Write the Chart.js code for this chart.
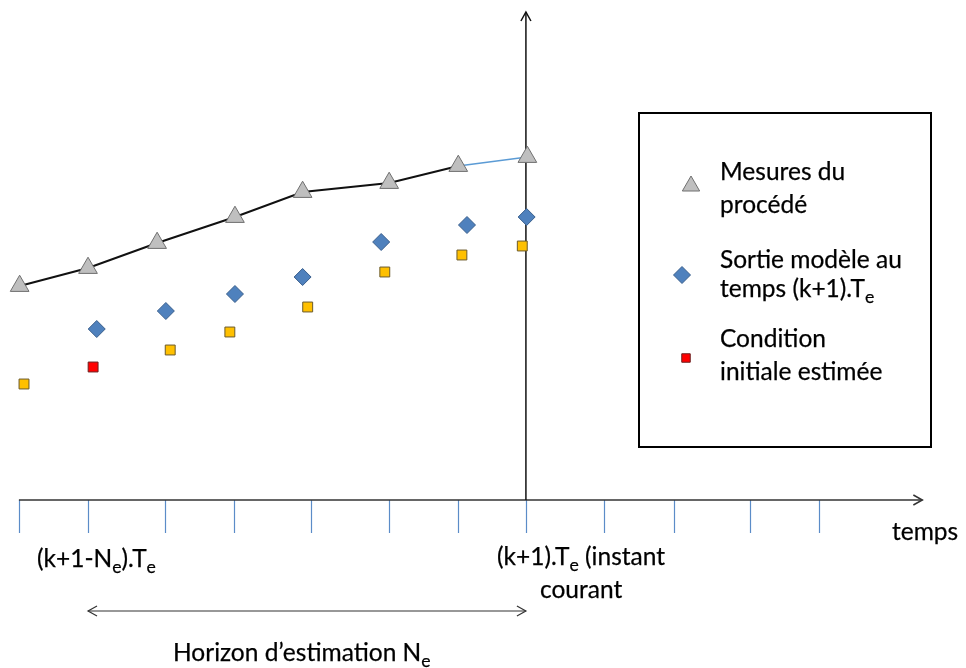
<!DOCTYPE html>
<html>
<head>
<meta charset="utf-8">
<script src="https://cdn.jsdelivr.net/npm/chart.js@4/dist/chart.umd.min.js"></script>
<style>
  html,body{margin:0;padding:0;background:#fff;}
  #wrap{position:relative;width:966px;height:668px;overflow:hidden;font-family:Lato,"Open Sans",sans-serif;color:#000;}
  canvas{position:absolute;left:0;top:0;}
  .t{position:absolute;white-space:nowrap;font-size:24.5px;line-height:24.5px;-webkit-text-stroke:0.25px #000;}
  .t sub{font-size:0.72em;vertical-align:-0.35em;line-height:0;}
  #legendBox{position:absolute;left:638px;top:112px;width:290px;height:332px;border:2px solid #000;}
</style>
</head>
<body>
<div id="wrap">
  <canvas id="c" width="966" height="668"></canvas>
  <div id="legendBox"></div>
  <div class="t" data-b="567" style="left:37px">(k+1-N<sub>e</sub>).T<sub>e</sub></div>
  <div class="t" data-b="565" style="left:497px">(k+1).T<sub>e</sub> (instant</div>
  <div class="t" data-b="598" style="left:540px">courant</div>
  <div class="t" data-b="540" style="left:892px">temps</div>
  <div class="t" data-b="661" style="left:173px">Horizon d’estimation N<sub>e</sub></div>
  <div class="t" data-b="180" style="left:720px">Mesures du</div>
  <div class="t" data-b="213" style="left:720px">procédé</div>
  <div class="t" data-b="268" style="left:720px">Sortie modèle au</div>
  <div class="t" data-b="297" style="left:720px">temps (k+1).T<sub>e</sub></div>
  <div class="t" data-b="347" style="left:720px">Condition</div>
  <div class="t" data-b="380" style="left:720px">initiale estimée</div>
</div>
<script>
// ---- data (time in sampling periods, output in arbitrary units) ----
const tickTimes = [0, 0.95, 2.01, 2.96, 4.02, 5.09, 6.04, 6.97, 8.05, 9.0, 10.05, 11.0];
const mesuresT = [0.01, 0.95, 1.90, 2.97, 3.90, 5.09, 6.04, 6.99];
const mesuresY = [21.4, 23.2, 25.7, 28.3, 30.8, 31.7, 33.4, 34.3];
const modeleT  = [1.07, 2.02, 2.97, 3.90, 4.98, 6.16, 6.98];
const modeleY  = [17.1, 18.9, 20.6, 22.3, 25.8, 27.5, 28.3];
const ancienT  = [0.07, 2.08, 2.90, 3.97, 5.03, 6.09, 6.92];
const ancienY  = [11.6, 15.0, 16.8, 19.3, 22.8, 24.5, 25.4];
const condInitT = [1.02];
const condInitY = [13.3];
const horizonStartTick = 1, currentTick = 7;

// ---- axis extents (diagram) ----
const X_MIN = -0.26, X_MAX = 13.02, Y_MIN = -16.8, Y_MAX = 50.0;
const X_ARROW_END = 12.42, Y_ARROW_END = 48.8, HORIZON_Y = -11.1;

const toPts = (xs, ys) => xs.map((x, i) => ({x: x, y: ys[i]}));
const lastSeg = mesuresT.length - 1;

const styles = {
  tri: {pointStyle:'triangle', radius:10.8, backgroundColor:'#bfbfbf', borderColor:'#6f6f6f', borderWidth:1},
  dia: {pointStyle:'rectRot', radius:8.5, backgroundColor:'#4f81bd', borderColor:'#3a5f8c', borderWidth:1},
  sq:  {pointStyle:'rect', radius:7, backgroundColor:'#ffc000', borderColor:'#6b5a2a', borderWidth:1},
  red: {pointStyle:'rect', radius:7, backgroundColor:'#ff0000', borderColor:'#6b2020', borderWidth:1}
};

function arrowHead(ctx, x, y, dx, dy, len, half){
  const px = -dy, py = dx;
  ctx.beginPath();
  ctx.moveTo(x - dx*len + px*half, y - dy*len + py*half);
  ctx.lineTo(x, y);
  ctx.lineTo(x - dx*len - px*half, y - dy*len - py*half);
  ctx.stroke();
}

const diagramAxes = {
  id:'diagramAxes',
  beforeDatasetsDraw(chart){
    const ctx = chart.ctx, xs = chart.scales.x, ys = chart.scales.y;
    const y0 = ys.getPixelForValue(0);
    const x0 = xs.getPixelForValue(tickTimes[0]);
    const xEnd = xs.getPixelForValue(X_ARROW_END);
    const xCur = xs.getPixelForValue(tickTimes[currentTick]);
    ctx.save();
    ctx.strokeStyle = '#5b8cc8'; ctx.lineWidth = 1.2;
    tickTimes.forEach(t => {
      const px = Math.round(xs.getPixelForValue(t)) + 0.5;
      ctx.beginPath(); ctx.moveTo(px, y0); ctx.lineTo(px, y0 + 33); ctx.stroke();
    });
    ctx.strokeStyle = '#333'; ctx.lineWidth = 1.5;
    ctx.beginPath(); ctx.moveTo(x0, y0); ctx.lineTo(xEnd, y0); ctx.stroke();
    arrowHead(ctx, xEnd, y0, 1, 0, 9, 5);
    const yTop = ys.getPixelForValue(Y_ARROW_END);
    ctx.strokeStyle = '#111'; ctx.lineWidth = 1.5;
    ctx.beginPath(); ctx.moveTo(xCur, y0); ctx.lineTo(xCur, yTop); ctx.stroke();
    arrowHead(ctx, xCur, yTop, 0, -1, 9, 5);
    const yh = ys.getPixelForValue(HORIZON_Y);
    const xa = xs.getPixelForValue(tickTimes[horizonStartTick]);
    ctx.strokeStyle = '#333'; ctx.lineWidth = 1.2;
    ctx.beginPath(); ctx.moveTo(xa, yh); ctx.lineTo(xCur, yh); ctx.stroke();
    arrowHead(ctx, xa, yh, -1, 0, 9, 5);
    arrowHead(ctx, xCur, yh, 1, 0, 9, 5);
    ctx.restore();
  },
  afterDraw(chart){
    const ctx = chart.ctx;
    const items = [[styles.tri, 691, 186, 10], [styles.dia, 682, 275, 8.5], [styles.red, 686, 358, 6]];
    items.forEach(([s, x, y, r]) => {
      ctx.save();
      ctx.fillStyle = s.backgroundColor; ctx.strokeStyle = s.borderColor; ctx.lineWidth = s.borderWidth;
      Chart.helpers.drawPoint(ctx, {pointStyle: s.pointStyle, radius: r, borderWidth: s.borderWidth, rotation: 0}, x, y);
      ctx.restore();
    });
  }
};

function ds(label, data, s, extra){
  return Object.assign({
    label, data, showLine:false,
    pointStyle:s.pointStyle, pointRadius:s.radius, pointHoverRadius:s.radius,
    pointBackgroundColor:s.backgroundColor, pointBorderColor:s.borderColor, pointBorderWidth:s.borderWidth,
    backgroundColor:s.backgroundColor, borderColor:s.borderColor
  }, extra || {});
}

new Chart(document.getElementById('c'), {
  type:'scatter',
  data:{datasets:[
    ds('Condition initiale estimée', toPts(condInitT, condInitY), styles.red, {order:4}),
    ds('Sorties précédentes', toPts(ancienT, ancienY), styles.sq, {order:3}),
    ds('Sortie modèle au temps (k+1).Te', toPts(modeleT, modeleY), styles.dia, {order:2}),
    ds('Mesures du procédé', toPts(mesuresT, mesuresY), styles.tri, {
      order:1, showLine:true, borderWidth:2, borderColor:'#111',
      segment:{ borderColor: c => c.p1DataIndex === lastSeg ? '#5b9bd5' : '#111',
                borderWidth: c => c.p1DataIndex === lastSeg ? 1.5 : 2 }
    })
  ]},
  options:{
    responsive:false, animation:false, devicePixelRatio:1,
    layout:{padding:0, autoPadding:false},
    plugins:{legend:{display:false}, tooltip:{enabled:false}},
    scales:{
      x:{type:'linear', display:false, min:X_MIN, max:X_MAX},
      y:{type:'linear', display:false, min:Y_MIN, max:Y_MAX}
    }
  },
  plugins:[diagramAxes]
});

document.querySelectorAll('.t').forEach(el => {
  const b = +el.dataset.b;
  el.style.top = (b - 21.5) + 'px';
});
</script>
</body>
</html>
